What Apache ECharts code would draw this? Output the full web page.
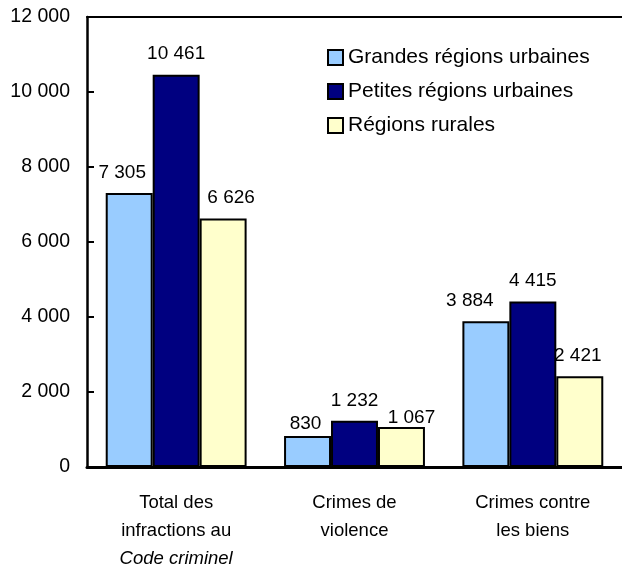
<!DOCTYPE html>
<html>
<head>
<meta charset="utf-8">
<script src="https://cdn.jsdelivr.net/npm/echarts@6/dist/echarts.min.js"></script>
<style>
  html, body { margin: 0; padding: 0; background: #fff; }
  #chart { width: 622px; height: 567px; }
</style>
</head>
<body>
<div id="chart"></div>
<script>
// catégories et valeurs
const categories = [
  'Total des\ninfractions au\n{i|Code criminel}',
  'Crimes de\nviolence',
  'Crimes contre\nles biens'
]
const seriesNames = ['Grandes régions urbaines', 'Petites régions urbaines', 'Régions rurales']
const grandes = [7305, 830, 3884]
const petites = [10461, 1232, 4415]
const rurales = [6626, 1067, 2421]
const colors = ['#99CCFF', '#000080', '#FFFFCC']
// petit décalage des étiquettes [dx, dy], comme sur l'original
const labelShift = [
  [[-7, 0], [-2, 8], [-16, 0]],
  [[0, 0], [0, 0], [0, 0]],
  [[8, 0], [10, 11], [-2, 0]]
]

const font = 'Liberation Sans, Arial, Helvetica, sans-serif'

// séparateur de milliers : espace
const fmt = v => String(v).replace(/\B(?=(\d{3})+(?!\d))/g, ' ')

const chart = echarts.init(document.getElementById('chart'))

const makeSeries = (name, data, i) => ({
  name: name,
  type: 'bar',
  data: data.map((v, j) => ({ value: v, label: { offset: labelShift[i][j] } })),
  barGap: 0,
  barCategoryGap: '21%',
  itemStyle: { color: colors[i], borderColor: '#000', borderWidth: 2 },
  label: {
    show: true,
    position: 'top',
    distance: 11,
    color: '#000',
    fontFamily: font,
    fontSize: 19,
    formatter: p => fmt(p.value)
  }
})

chart.setOption({
  animation: false,
  textStyle: { fontFamily: font },
  grid: { left: 87, right: 0, top: 17, bottom: 100, outerBoundsMode: 'none' },
  legend: {
    orient: 'vertical',
    left: 327,
    top: 47,
    padding: 0,
    itemWidth: 15,
    itemHeight: 15,
    itemGap: 13,
    icon: 'rect',
    textStyle: { color: '#000', fontSize: 21, fontFamily: font },
    data: seriesNames
  },
  xAxis: [
    {
      type: 'category',
      data: categories,
      axisLine: { lineStyle: { color: '#000', width: 3 } },
      axisTick: { show: false },
      axisLabel: {
        color: '#000',
        fontSize: 18.5,
        fontFamily: font,
        lineHeight: 28,
        margin: 22,
        interval: 0,
        rich: {
          i: { fontStyle: 'italic', fontSize: 18.5, fontFamily: font, lineHeight: 28 }
        }
      }
    },
    {
      type: 'category',
      position: 'top',
      data: categories,
      axisLine: { show: true, lineStyle: { color: '#000', width: 2 } },
      axisTick: { show: false },
      axisLabel: { show: false }
    }
  ],
  yAxis: {
    type: 'value',
    min: 0,
    max: 12000,
    interval: 2000,
    axisLine: { show: true, lineStyle: { color: '#000', width: 2.5 } },
    axisTick: { show: true, inside: true, length: 7, lineStyle: { color: '#000', width: 2 } },
    splitLine: { show: false },
    axisLabel: {
      color: '#000',
      fontSize: 19.5,
      fontFamily: font,
      margin: 17,
      formatter: v => fmt(v)
    }
  },
  series: [
    makeSeries(seriesNames[0], grandes, 0),
    makeSeries(seriesNames[1], petites, 1),
    makeSeries(seriesNames[2], rurales, 2)
  ]
})

window.addEventListener('resize', () => chart.resize())
</script>
</body>
</html>
